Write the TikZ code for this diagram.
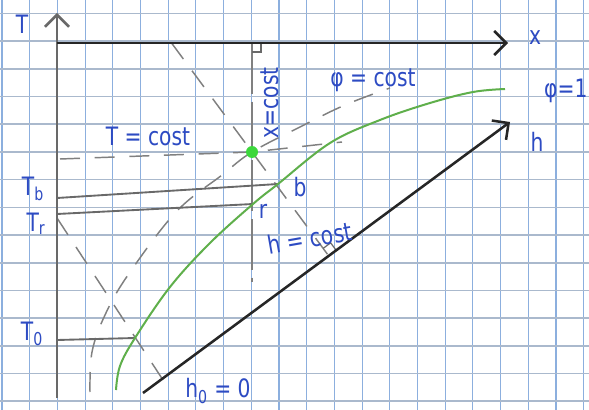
\documentclass[tikz,border=0pt]{standalone}
\usepackage{fontspec}
\setmainfont{DejaVu Sans}[FakeStretch=0.8]
\usetikzlibrary{arrows.meta, positioning, calc}
\definecolor{inkblue}{RGB}{45,75,195}
\definecolor{gridblue}{RGB}{140,175,222}
\definecolor{gridgray}{RGB}{170,185,205}
\definecolor{curvegreen}{RGB}{95,175,75}
\definecolor{dotgreen}{RGB}{60,215,60}
\definecolor{pencil}{RGB}{105,105,105}
\tikzset{
    axisline/.style={line width=1.9pt, draw=black!85},
    taxisline/.style={line width=1.9pt, draw=pencil},
    barb/.style={-{Straight Barb[length=9pt,width=18pt]}},
    hxlabel/.style={text=inkblue, font=\fontsize{19}{22}\selectfont, inner sep=1pt},
    isoline/.style={line width=1.1pt, draw=pencil!85, dash pattern=on 15pt off 11pt},
    levelline/.style={line width=1.4pt, draw=pencil},
    satcurve/.style={line width=1.5pt, draw=curvegreen},
    rightmark/.style={line width=0.9pt, draw=pencil}
}

\begin{document}
\begin{tikzpicture}[x=0.75pt, y=-0.75pt]
    \useasboundingbox (0,0) rectangle (589,410);
    % Squared paper
    \fill[white] (0,0) rectangle (589,410);
    \foreach \k in {0,...,21}
        \draw[gridblue, line width=0.8pt] ({2+27.7*\k},0) -- ({2+27.7*\k},410);
    \foreach \k in {0,...,14}
        \draw[gridgray, line width=1.2pt] (0,{13.4+27.7*\k}) -- (589,{13.4+27.7*\k});

    % Points
    \coordinate (O) at (57,43);
    \coordinate (Tend) at (57,13);
    \coordinate (Tbot) at (57,398);
    \coordinate (Xend) at (508,43);
    \coordinate (H0) at (143,393);
    \coordinate (Hend) at (510,122);
    \coordinate (D) at (252,152);
    \coordinate (b) at (278,184);
    \coordinate (r) at (253,204);
    \coordinate (c0) at (135,338);
    \coordinate (F) at ($(H0)!(D)!(Hend)$);
    \coordinate (Htop) at ($(F)!2.05!(D)$);

    % Isolines through the state point
    \draw[isoline] (60,159) -- (D) -- (342,142);
    \draw[isoline, dash pattern=on 38pt off 6pt] (252,43) -- (D) -- (252,282);
    \draw[isoline] (Htop) -- (F);
    \draw[isoline] plot[smooth, tension=0.6] coordinates {(90,392) (92,352) (105,315) (128,275) (176,212) (222,175) (D) (300,127) (345,105) (390,88)};
    \draw[isoline] (57,218) -- (163,380);

    % Right angle marks
    \draw[rightmark] (252,52) -- (261,52) -- (261,43);
    \coordinate (Fb) at ($(F)!7pt!(Hend)$);
    \coordinate (Fd) at ($(F)!7pt!(D)$);
    \draw[rightmark] (Fb) -- ($(Fb)+(Fd)-(F)$) -- (Fd);

    % Temperature levels
    \draw[levelline] (57,198) -- (b);
    \draw[levelline] (57,214) -- (r);
    \draw[levelline] (57,340) -- (c0);

    % Saturation curve
    \draw[satcurve] plot[smooth, tension=0.6] coordinates {(116,390) (120,366) (c0) (170,287) (210,243) (r) (b) (330,143) (380,120) (430,103) (473,92) (505,89)};

    % Axes
    \draw[taxisline, barb] (Tbot) -- (Tend);
    \draw[axisline, barb] (O) -- (Xend);
    \draw[axisline, barb] (H0) -- (Hend);

    \fill[dotgreen] (D) circle (4.5pt);

    % Labels
    \node[hxlabel] (Tlab) at (22,24) {T};
    \node[hxlabel] (xlab) at (535,38) {x};
    \node[hxlabel] (hlab) at (537,142) {h};
    \node[hxlabel, anchor=east] (philab) at (589,91) {φ=1};
    \node[hxlabel] (h0lab) at (218,391) {h\textsubscript{0} = 0};
    \node[hxlabel] (Tblab) at (33,189) {T\textsubscript{b}};
    \node[hxlabel] (Trlab) at (36,224) {T\textsubscript{r}};
    \node[hxlabel] (T0lab) at (32,334) {T\textsubscript{0}};
    \node[hxlabel] (blab) at (300,187) {b};
    \node[hxlabel] (rlab) at (263,211) {r};
    \node[hxlabel] (Tconst) at (148,136) {T = cost};
    \node[hxlabel, rotate=90] (xconst) at (270,103) {x=cost};
    \node[hxlabel] (phiconst) at (373,80) {φ = cost};
    \node[hxlabel, rotate=10] (hconst) at (310,238) {h = cost};
\end{tikzpicture}
\end{document}
